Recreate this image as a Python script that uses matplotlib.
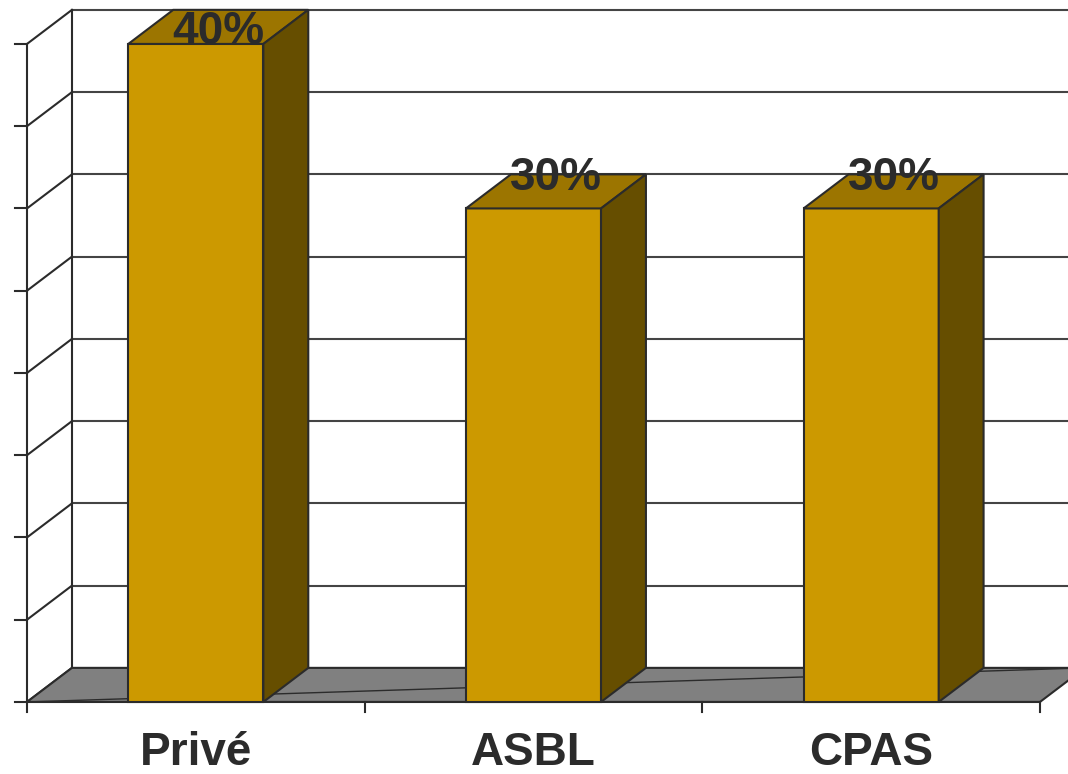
import matplotlib
matplotlib.use("Agg")
import matplotlib.pyplot as plt
from matplotlib.patches import Polygon
import numpy as np

# data
categories = ["Privé", "ASBL", "CPAS"]
values = [40, 30, 30]
labels = ["40%", "30%", "30%"]
y_ticks = np.arange(0, 45, 5)

# 3D look (in data units)
depth_x = 0.133
depth_y = 2.07
bar_w = 0.4
y_max = 40

front_col = "#CC9900"
top_col = "#9C7500"
side_col = "#664E00"
edge_col = "#2b2b2b"
floor_col = "#808080"

plt.rcParams["font.family"] = ["Liberation Sans", "DejaVu Sans"]

fig = plt.figure(figsize=(10.68, 7.74), dpi=100)
ax = fig.add_axes([0, 0, 1, 1])
ax.set_xlim(-0.08, 3.083)
ax.set_ylim(-4.38, 42.67)
ax.axis("off")

n = len(categories)
right = n + depth_x + 0.2

# back wall gridlines + side wall diagonals
for v in y_ticks:
    ax.plot([depth_x, right], [v + depth_y, v + depth_y], color="#444444", lw=1.5, zorder=1)
    ax.plot([0, depth_x], [v, v + depth_y], color=edge_col, lw=1.5, zorder=1)
    ax.plot([-0.035, 0], [v, v], color=edge_col, lw=1.5, zorder=1)
ax.plot([depth_x, depth_x], [depth_y, y_max + depth_y], color=edge_col, lw=1.5, zorder=1)

# floor
floor = Polygon([(0, 0), (n, 0), (n + depth_x, depth_y), (depth_x, depth_y)],
                closed=True, facecolor=floor_col, edgecolor=edge_col, lw=1.5, zorder=2)
ax.add_patch(floor)
ax.plot([0, n + depth_x], [0, depth_y], color=edge_col, lw=1, zorder=2)

# axes lines and ticks
ax.plot([0, 0], [0, y_max], color=edge_col, lw=1.5, zorder=2)
ax.plot([0, n], [0, 0], color=edge_col, lw=1.5, zorder=2)
for i in range(n + 1):
    ax.plot([i, i], [0, -0.6], color=edge_col, lw=1.5, zorder=2)

# bars
for i, (cat, v, lab) in enumerate(zip(categories, values, labels)):
    x0 = i + 0.5 - bar_w / 2
    x1 = i + 0.5 + bar_w / 2
    front = Polygon([(x0, 0), (x1, 0), (x1, v), (x0, v)], closed=True,
                    facecolor=front_col, edgecolor=edge_col, lw=1.5, zorder=3)
    top = Polygon([(x0, v), (x1, v), (x1 + depth_x, v + depth_y), (x0 + depth_x, v + depth_y)],
                  closed=True, facecolor=top_col, edgecolor=edge_col, lw=1.5, zorder=3)
    side = Polygon([(x1, 0), (x1 + depth_x, depth_y), (x1 + depth_x, v + depth_y), (x1, v)],
                   closed=True, facecolor=side_col, edgecolor=edge_col, lw=1.5, zorder=3)
    for p in (front, top, side):
        ax.add_patch(p)
    # label sits on the top face, pushed down when it would leave the chart
    ly = min(v + 0.54 * depth_y, y_max)
    ax.text(i + 0.5 + depth_x / 2, ly, lab, ha="center", va="baseline",
            fontsize=33, fontweight="bold", color="#2b2b2b", zorder=5)
    ax.text(i + 0.5, -3.83, cat, ha="center", va="baseline",
            fontsize=33, fontweight="bold", color="#2b2b2b", zorder=5)

fig.savefig("out.png", dpi=100)
